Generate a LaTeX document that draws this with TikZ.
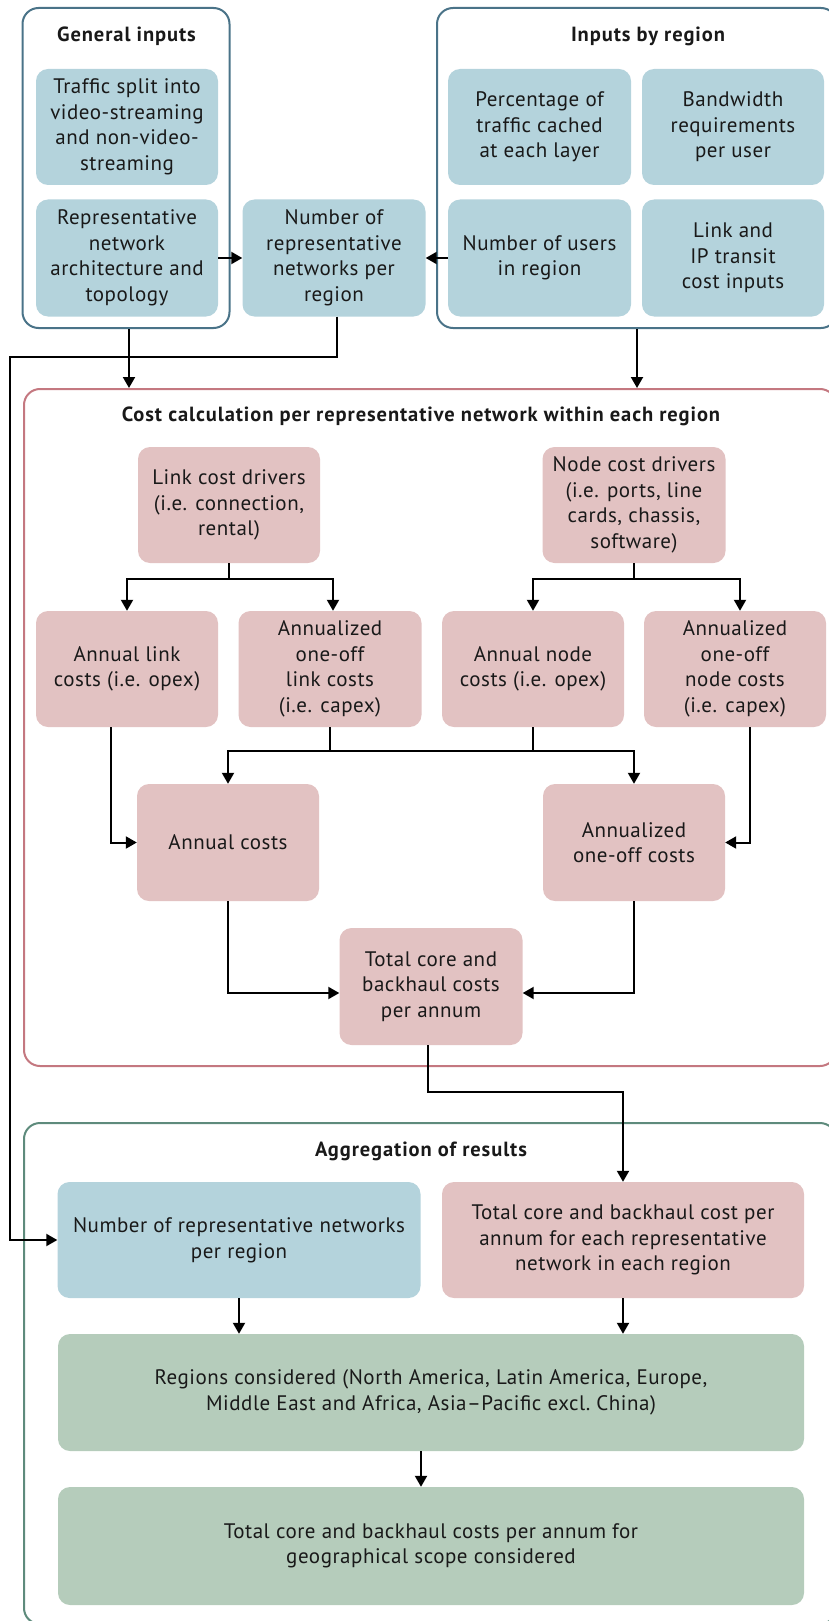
\documentclass[tikz,border=0pt]{standalone}
\usepackage{fontspec}
\setmainfont{PT Sans}
\usetikzlibrary{arrows.meta,calc}
\definecolor{bfill}{HTML}{B4D3DC}
\definecolor{pfill}{HTML}{E2C2C2}
\definecolor{gfill}{HTML}{B5CCBB}
\definecolor{bline}{HTML}{4A7388}
\definecolor{pline}{HTML}{C47880}
\definecolor{gline}{HTML}{5E8B7C}
\tikzset{
  box/.style={rounded corners=12pt, inner sep=0pt, align=center, minimum width=182, minimum height=116,
    font=\fontsize{21}{25.5}\selectfont\addfontfeature{LetterSpace=2.5}, text=black!90},
  bbox/.style={box, fill=bfill},
  pbox/.style={box, fill=pfill},
  gbox/.style={box, fill=gfill},
  outer/.style={rounded corners=16pt, line width=2pt, inner sep=0pt},
  ttl/.style={font=\fontsize{20.5}{24}\selectfont\bfseries\addfontfeature{LetterSpace=4.5}, text=black!90},
  arr/.style={line width=2pt, -{Triangle[length=11pt,width=12pt]}},
  ln/.style={line width=2pt},
}
\begin{document}
\begin{tikzpicture}[x=1pt,y=-1pt]
\useasboundingbox (0,0) rectangle (829,1621);
% outer groups
\node[outer, draw=bline, minimum width=207, minimum height=320] (gen) at (126,168) {};
\node[outer, draw=bline, minimum width=400, minimum height=320] (reg) at (637,168) {};
\node[outer, draw=pline, minimum width=812, minimum height=677] (cost) at (430,727.5) {};
\node[outer, draw=gline, minimum width=812, minimum height=501] (agg) at (430,1373.5) {};
\node[ttl] (tgen) at (126.5,36) {General inputs};
\node[ttl] (treg) at (648,36) {Inputs by region};
\node[ttl] (tcost) at (421,416) {Cost calculation per representative network within each region};
\node[ttl] (tagg) at (421,1151) {Aggregation of results};
% inputs
\node[bbox] (traffic) at (127,127) {Traffic split into\\video-streaming\\and non-video-\\streaming};
\node[bbox, minimum height=117] (repnet) at (127,258) {Representative\\network\\architecture and\\topology};
\node[bbox, minimum width=183, minimum height=117] (numnet) at (334,258) {Number of\\representative\\networks per\\region};
\node[bbox, minimum width=183] (pct) at (539.5,127) {Percentage of\\traffic cached\\at each layer};
\node[bbox] (bw) at (733,127) {Bandwidth\\requirements\\per user};
\node[bbox, minimum width=183, minimum height=117] (users) at (539.5,258) {Number of users\\in region};
\node[bbox, minimum height=117] (linkip) at (733,258) {Link and\\IP transit\\cost inputs};
% cost calculation
\node[pbox] (linkdrv) at (229,505) {Link cost drivers\\(i.e. connection,\\rental)};
\node[pbox, minimum width=183] (nodedrv) at (634,505) {Node cost drivers\\(i.e. ports, line\\cards, chassis,\\software)};
\node[pbox] (annlink) at (127,669) {Annual link\\costs (i.e. opex)};
\node[pbox, minimum width=183] (annoffl) at (330,669) {Annualized\\one-off\\link costs\\(i.e. capex)};
\node[pbox] (annnode) at (533,669) {Annual node\\costs (i.e. opex)};
\node[pbox] (annoffn) at (735,669) {Annualized\\one-off\\node costs\\(i.e. capex)};
\node[pbox, minimum height=117] (anncost) at (228,842.5) {Annual costs};
\node[pbox, minimum height=117] (annoff) at (634,842.5) {Annualized\\one-off costs};
\node[pbox, minimum width=183, minimum height=117] (total) at (431,986.5) {Total core and\\backhaul costs\\per annum};
% aggregation
\node[bbox, minimum width=363] (aggblue) at (239,1240) {Number of representative networks\\per region};
\node[pbox, minimum width=362] (aggpink) at (623,1240) {Total core and backhaul cost per\\annum for each representative\\network in each region};
\node[gbox, minimum width=746, minimum height=117] (green1) at (431,1392.5) {Regions considered (North America, Latin America, Europe,\\Middle East and Africa, Asia--Pacific excl.\ China)};
\node[gbox, minimum width=746, minimum height=118] (green2) at (431,1546) {Total core and backhaul costs per annum for\\geographical scope considered};
% connectors top
\draw[arr] (repnet.east) -- (numnet.west);
\draw[arr] (users.west) -- (numnet.east);
\draw[arr] ([xshift=3pt]gen.south) -- ([xshift=3pt]gen.south |- cost.north);
\draw[arr] (reg.south) -- (reg.south |- cost.north);
\coordinate (lft) at (10,357);
\draw[arr] ([xshift=3pt]numnet.south) |- (lft) |- (aggblue.west);
% cost calculation connectors
\draw[arr] (linkdrv.south) -- ++(0,16) -| (annlink.north);
\draw[arr] (linkdrv.south) -- ++(0,16) -| ([xshift=3pt]annoffl.north);
\draw[arr] (nodedrv.south) -- ++(0,16) -| (annnode.north);
\draw[arr] (nodedrv.south) -- ++(0,16) -| ([xshift=5pt]annoffn.north);
\coordinate (mj) at (431,751);
\draw[arr] (annoffl.south) |- (anncost.north |- mj) -- (anncost.north);
\draw[arr] (annnode.south) |- (annoff.north |- mj) -- (annoff.north);
\draw[ln] (annoffl.south |- mj) -- (annnode.south |- mj);
\draw[arr] ([xshift=-16pt]annlink.south) |- (anncost.west);
\draw[arr] ([xshift=15pt]annoffn.south) |- (annoff.east);
\draw[arr] (anncost.south) |- ($(total.west)+(0,6.5)$);
\draw[arr] (annoff.south) |- ($(total.east)+(0,6.5)$);
\draw[arr] ([xshift=-3pt]total.south) -- ++(0,47) -| (aggpink.north);
% aggregation connectors
\draw[arr] (aggblue.south) -- (aggblue.south |- green1.north);
\draw[arr] (aggpink.south) -- (aggpink.south |- green1.north);
\draw[arr] ([xshift=-10pt]green1.south) -- ([xshift=-10pt]green1.south |- green2.north);
\end{tikzpicture}
\end{document}
